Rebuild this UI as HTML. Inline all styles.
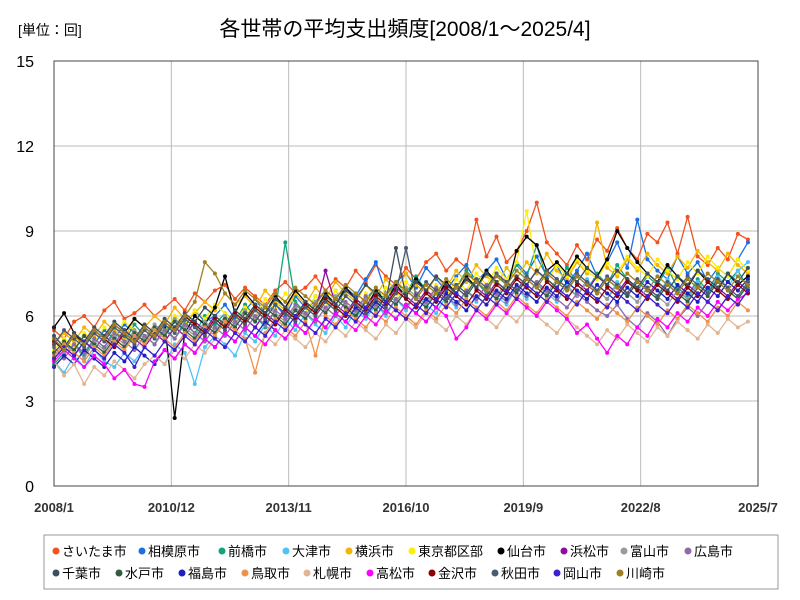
<!DOCTYPE html>
<html><head><meta charset="utf-8">
<style>
body{margin:0;background:#fff;}
svg{display:block;font-family:"Liberation Sans","Noto Sans CJK JP",sans-serif;}
</style></head>
<body>
<svg id="chart" width="800" height="600">
<rect x="0" y="0" width="800" height="600" fill="#fff"/>
<text x="18" y="35" font-size="14" fill="#000">[単位：回]</text>
<text x="405" y="36" font-size="21" text-anchor="middle" fill="#000">各世帯の平均支出頻度[2008/1～2025/4]</text>
<g id="grid"></g>
<g id="series"></g>
<rect x="54" y="61" width="704" height="425" fill="none" stroke="#444" stroke-width="1"/>
<rect x="44" y="535" width="734" height="54" fill="#fff" stroke="#999"/>
<g id="legend"></g>
</svg>
<script>
const names=["さいたま市","相模原市","前橋市","大津市","横浜市","東京都区部","仙台市","浜松市","富山市","広島市","千葉市","水戸市","福島市","鳥取市","札幌市","高松市","金沢市","秋田市","岡山市","川崎市"];
const colors=["#f4511e","#1a6fe8","#13a37c","#4fc3f7","#f4b400","#ffee00","#000000","#8e0ca0","#9a9a9a","#8e6aa8","#3c4f5e","#2e5e3e","#1f1fbf","#f0914a","#e2b594","#ff00ff","#8b0000","#4a5a70","#3f1fcf","#a08020"];
const yTicks=[0,3,6,9,12,15];
const xTickLabels=["2008/1","2010/12","2013/11","2016/10","2019/9","2022/8","2025/7"];
const xTickMonths=[0,35,70,105,140,175,210];
const monthStep=3;
const s0=[5.5,5.2,5.8,6.0,5.6,6.2,6.5,5.9,6.1,6.4,6.0,6.3,6.6,6.2,6.8,6.5,6.9,7.1,6.6,7.0,6.7,6.4,6.9,7.2,6.8,7.0,7.4,6.9,7.3,7.0,7.6,7.2,7.8,7.4,7.1,7.7,7.3,7.9,8.2,7.6,8.0,7.7,9.4,8.1,8.8,7.9,8.3,9.0,10.0,8.6,8.2,7.8,8.5,8.0,8.7,8.3,9.1,8.4,8.0,8.9,8.6,9.3,8.2,9.5,8.1,7.8,8.4,8.0,8.9,8.7];
const s1=[4.6,5.0,4.8,5.3,5.0,5.5,5.2,5.7,5.4,5.1,5.6,5.3,5.9,5.6,6.2,5.8,6.0,6.4,5.9,6.2,6.6,6.1,6.4,6.0,6.7,6.3,6.5,6.9,6.6,7.0,6.7,7.3,7.9,6.8,7.2,7.5,7.0,7.7,7.3,6.9,7.4,7.8,7.2,7.6,8.0,7.3,7.9,7.5,8.1,7.4,7.8,7.1,7.6,8.2,7.4,7.9,8.6,7.7,9.4,8.0,7.6,7.3,8.1,7.5,7.9,7.2,7.7,7.4,8.0,8.6];
const s2=[4.3,4.7,5.0,4.6,5.2,4.9,5.5,5.1,5.7,5.3,5.0,5.6,5.2,5.8,5.4,6.0,5.7,6.1,5.8,6.4,6.0,5.6,6.2,8.6,6.5,6.1,6.7,6.3,6.9,6.4,5.9,6.6,7.0,6.5,7.2,6.8,7.4,6.9,6.6,7.3,7.0,7.6,7.2,6.8,7.5,7.1,7.8,7.4,8.5,7.3,7.0,7.7,7.2,6.9,7.5,7.1,7.8,7.3,6.9,7.4,7.1,7.7,7.0,6.7,7.3,6.9,7.5,7.2,7.6,7.0];
const s3=[4.4,4.0,4.6,4.2,4.8,4.4,4.2,4.7,4.4,4.9,4.6,4.3,5.0,4.7,3.6,4.9,5.3,5.0,4.6,5.4,5.1,5.7,5.3,5.9,5.5,6.1,5.7,5.4,6.0,5.6,6.2,5.9,6.4,6.0,6.6,6.2,6.8,6.4,6.1,6.7,6.3,6.9,6.5,7.1,6.7,6.4,7.0,6.6,7.2,6.8,6.5,7.1,6.7,7.3,6.9,6.6,7.2,6.8,6.5,7.0,6.7,7.3,6.9,6.6,7.2,6.8,7.4,7.0,7.6,7.9];
const s4=[5.0,5.4,5.1,5.6,5.3,5.8,5.5,5.2,5.9,5.6,6.0,5.7,6.3,5.9,6.1,6.5,6.2,6.8,6.4,6.7,6.3,6.9,6.5,6.2,6.8,6.4,7.0,6.6,7.2,6.8,6.5,7.1,6.7,7.3,6.9,7.5,7.1,6.8,7.4,7.0,7.6,7.2,7.8,7.4,7.1,7.7,7.3,7.9,7.5,8.2,7.6,7.3,7.9,7.5,9.3,7.7,7.4,8.0,7.6,8.2,7.8,7.5,8.1,7.7,8.3,7.9,7.6,8.2,7.8,7.5];
const s5=[4.8,5.2,4.9,5.4,5.1,5.6,5.3,5.8,5.5,5.2,5.7,5.4,6.0,5.7,6.2,5.9,6.4,6.1,5.8,6.3,6.0,6.6,6.2,6.8,6.4,6.1,6.7,6.3,6.9,6.5,6.2,6.8,6.4,7.0,6.6,7.2,6.8,6.5,7.1,6.7,7.3,6.9,7.5,7.1,7.7,7.3,7.9,9.7,7.6,7.2,7.8,7.4,8.0,7.6,7.3,7.9,7.5,8.1,7.7,7.4,8.0,7.6,7.3,7.9,7.5,8.1,7.7,7.4,8.0,7.6];
const s6=[5.6,6.1,5.4,5.0,5.5,5.2,5.7,5.4,5.9,5.6,5.3,5.8,2.4,5.4,6.0,5.7,6.3,7.4,6.1,6.8,6.4,6.1,6.7,6.3,6.9,6.5,6.2,6.8,6.4,7.0,6.6,6.3,6.9,6.5,7.1,6.7,7.3,6.9,6.6,7.2,6.8,7.4,7.0,7.6,7.2,6.9,8.3,8.8,8.5,7.6,7.9,7.5,8.1,7.7,7.4,8.0,9.0,8.4,7.9,7.5,7.2,7.8,7.4,7.0,7.6,7.2,6.9,7.5,7.1,7.4];
const s7=[4.5,4.9,4.6,5.1,4.8,5.3,5.0,5.5,5.2,4.9,5.4,5.1,5.6,5.3,5.8,5.5,6.0,5.7,5.4,5.9,5.6,6.1,5.8,6.3,6.0,6.5,6.2,7.6,6.4,6.1,6.6,6.3,6.8,6.5,7.0,6.7,6.4,6.9,6.6,7.1,6.8,7.3,7.0,6.7,7.2,6.9,7.4,7.1,7.6,7.3,7.0,7.5,7.2,6.9,7.4,7.1,6.8,7.3,7.0,6.7,7.2,6.9,6.6,7.1,6.8,6.5,7.0,6.7,7.2,6.9];
const s8=[5.2,4.7,5.0,4.5,5.1,4.8,5.3,5.0,5.5,5.2,5.7,5.4,5.9,5.6,5.3,5.8,5.5,6.0,5.7,6.2,5.9,6.4,6.1,5.8,6.3,6.0,6.5,6.2,6.7,6.4,6.1,6.6,6.3,6.8,6.5,7.0,6.7,6.4,6.9,6.6,7.1,6.8,7.3,7.0,6.7,7.2,6.9,7.4,7.1,6.8,7.3,7.0,6.7,7.2,6.9,6.6,7.1,6.8,6.5,7.0,6.7,6.4,6.9,6.6,7.1,6.8,7.3,7.0,6.7,7.2];
const s9=[4.9,4.5,5.0,4.7,5.2,4.9,5.4,5.1,4.8,5.3,5.0,5.5,5.2,5.7,5.4,5.1,5.6,5.3,5.8,5.5,6.0,5.7,6.2,5.9,6.4,6.1,5.8,6.3,6.0,6.5,6.2,6.7,6.4,6.1,6.6,6.3,6.8,6.5,7.0,6.7,6.4,6.9,6.6,7.1,6.8,6.5,7.0,6.7,7.2,6.9,6.6,6.3,6.8,6.5,6.2,6.0,6.4,5.9,5.6,6.1,5.8,5.3,5.9,6.3,6.0,6.5,6.2,6.7,6.4,6.9];
const s10=[5.3,4.9,5.4,5.1,5.6,5.3,5.8,5.5,5.2,5.7,5.4,5.9,5.6,6.1,5.8,6.3,6.0,5.7,6.2,5.9,6.4,6.1,6.6,6.3,6.0,6.5,6.2,6.7,6.4,6.9,6.6,7.1,6.8,6.5,8.4,6.7,7.2,6.9,7.4,7.1,6.8,7.3,7.0,7.5,7.2,6.9,7.4,7.1,7.6,7.3,7.0,7.5,7.2,7.7,7.4,7.1,7.6,7.3,7.0,7.5,7.2,6.9,7.4,7.1,7.6,7.3,7.0,7.5,7.2,7.7];
const s11=[4.7,5.1,4.8,5.3,5.0,4.7,5.2,4.9,5.4,5.1,5.6,5.3,5.8,5.5,5.2,5.7,5.4,5.9,5.6,6.1,5.8,6.3,6.0,5.7,6.2,5.9,6.4,6.1,6.6,6.3,6.0,6.5,6.2,6.7,6.4,6.9,6.6,6.3,6.8,6.5,7.0,6.7,7.2,6.9,6.6,7.1,6.8,7.3,7.0,6.7,7.2,6.9,7.4,7.1,6.8,7.3,7.0,6.7,7.2,6.9,6.6,7.1,6.8,6.5,7.0,6.7,7.2,6.9,6.6,7.1];
const s12=[4.2,4.6,4.3,4.8,4.5,4.2,4.7,4.4,4.9,4.6,4.3,4.8,4.5,5.0,4.7,5.2,4.9,5.4,5.1,5.6,5.3,5.8,5.5,5.2,5.7,5.4,5.9,5.6,6.1,5.8,6.3,6.0,6.5,6.2,5.9,6.4,6.1,6.6,6.3,6.8,6.5,6.2,6.7,6.4,6.9,6.6,7.1,6.8,6.5,7.0,6.7,7.2,6.9,6.6,7.1,6.8,6.5,7.0,6.7,7.2,6.9,6.6,7.1,6.8,6.5,7.0,6.7,7.2,6.9,7.3];
const s13=[4.6,5.0,4.7,4.4,4.9,4.6,5.1,4.8,5.3,5.0,5.5,5.2,4.9,5.4,5.1,5.6,5.3,5.8,5.5,5.2,4.0,5.4,5.9,5.6,5.3,5.8,4.6,6.0,5.7,6.2,5.9,5.6,6.1,5.8,6.3,6.0,5.7,6.2,5.9,6.4,6.1,6.6,6.3,6.0,6.5,6.2,6.7,6.4,6.1,6.6,6.3,6.0,6.5,6.2,5.9,6.4,6.1,5.8,6.3,6.0,5.7,6.2,5.9,6.4,6.1,5.8,6.3,6.0,6.5,6.2];
const s14=[4.4,3.9,4.3,3.6,4.2,3.9,4.4,4.1,3.8,4.3,4.6,4.3,4.8,4.5,5.0,4.7,5.2,4.9,5.4,5.1,4.8,5.3,5.0,5.5,5.2,4.9,5.4,5.1,5.6,5.3,5.8,5.5,5.2,5.7,5.4,5.9,5.6,6.1,5.8,5.5,6.0,5.7,6.2,5.9,5.6,6.1,5.8,6.3,6.0,5.7,5.4,5.9,5.6,5.3,5.0,5.5,5.2,5.7,5.4,5.1,5.6,5.3,5.8,5.5,5.2,5.7,5.4,5.9,5.6,5.8];
const s15=[4.4,4.8,4.5,4.2,4.6,4.3,3.8,4.1,3.6,3.5,4.4,4.8,4.5,5.0,4.7,5.2,4.9,5.4,5.1,5.6,5.3,5.0,5.5,5.2,5.7,5.4,5.9,5.6,6.1,5.8,5.5,6.0,5.7,6.2,5.9,6.4,6.1,5.8,6.3,6.0,5.2,5.6,6.2,5.9,6.4,6.1,6.6,6.3,6.0,6.5,6.2,5.9,5.4,5.7,5.2,4.7,5.3,5.0,5.6,5.3,5.9,5.6,6.1,5.8,6.3,6.0,6.5,6.2,6.6,6.8];
const s16=[5.1,4.8,5.3,5.0,5.5,5.2,4.9,5.4,5.1,5.6,5.3,5.8,5.5,6.0,5.7,5.4,5.9,5.6,6.1,5.8,6.3,6.0,5.7,6.2,5.9,6.4,6.1,6.6,6.3,6.0,6.5,6.2,6.7,6.4,6.9,6.6,6.3,6.8,6.5,7.0,6.7,6.4,6.9,6.6,7.1,6.8,7.3,7.0,6.7,7.2,6.9,6.6,7.1,6.8,6.5,7.0,6.7,7.2,6.9,6.6,7.1,6.8,6.5,7.0,6.7,7.2,6.9,6.6,7.1,6.8];
const s17=[5.0,5.5,5.2,4.9,5.4,5.1,5.6,5.3,5.0,5.5,5.2,5.7,5.4,5.9,5.6,5.3,5.8,5.5,6.0,5.7,6.2,5.9,6.4,6.1,5.8,6.3,6.0,6.5,6.2,6.7,6.4,6.1,6.6,6.3,6.8,8.4,6.7,7.2,6.9,6.6,7.1,6.8,7.3,7.0,7.5,7.2,6.9,7.4,7.1,7.6,7.3,7.0,7.5,7.2,6.9,7.4,7.1,6.8,7.3,7.0,6.7,7.2,6.9,7.4,7.1,6.8,7.3,7.0,6.7,7.2];
const s18=[4.5,4.9,4.6,5.1,4.8,4.5,5.0,4.7,4.2,4.9,4.6,5.1,4.8,5.3,5.0,5.5,5.2,4.9,5.4,5.1,5.6,5.3,5.8,5.5,6.0,5.7,5.4,5.9,5.6,6.1,5.8,6.3,6.0,6.5,6.2,5.9,6.4,6.1,6.6,6.3,6.8,6.5,6.2,6.7,6.4,6.9,6.6,7.1,6.8,6.5,7.0,6.7,6.4,6.9,6.6,6.3,6.8,6.5,6.2,6.7,6.4,6.1,6.6,6.3,6.8,6.5,6.2,6.7,6.4,6.9];
const s19=[5.2,4.8,5.3,5.0,5.5,5.2,5.7,5.4,5.1,5.6,5.3,5.8,5.5,6.0,6.5,7.9,7.5,6.8,6.4,6.9,6.6,6.3,6.8,6.5,7.0,6.7,6.4,6.9,6.6,7.1,6.8,6.5,7.0,6.7,7.2,6.9,6.6,7.1,6.8,7.3,7.0,7.5,7.2,6.9,7.4,7.1,7.6,7.3,7.0,7.5,7.2,6.9,7.4,7.1,6.8,7.3,7.0,7.5,7.2,6.9,7.4,7.1,6.8,7.3,7.0,7.5,7.2,6.9,7.4,7.1];
const seriesValues=[s0,s1,s2,s3,s4,s5,s6,s7,s8,s9,s10,s11,s12,s13,s14,s15,s16,s17,s18,s19];

const NS="http://www.w3.org/2000/svg";
const X0=54,X1=758,Y0=486,Y1=61,XMAX=210,YMAX=15;
function xs(m){return X0+(X1-X0)*m/XMAX;}
function ys(v){return Y0-(Y0-Y1)*v/YMAX;}
function mk(t,a){const e=document.createElementNS(NS,t);for(const k in a)e.setAttribute(k,a[k]);return e;}
const grid=document.getElementById('grid');
yTicks.forEach(v=>{
  const l=mk('line',{x1:X0,x2:X1,y1:ys(v),y2:ys(v),stroke:'#bbb','stroke-width':1});
  
  
  grid.appendChild(l);
  const t=mk('text',{x:X0-20,y:ys(v)+6,'font-size':16,'text-anchor':'end',fill:'#000'});
  t.textContent=v;
  
  
  grid.appendChild(t);
});
xTickMonths.forEach((m,i)=>{
  const l=mk('line',{x1:xs(m),x2:xs(m),y1:Y1,y2:Y0,stroke:'#bbb','stroke-width':1});
  
  
  grid.appendChild(l);
  const t=mk('text',{x:xs(m),y:512,'font-size':13,'font-weight':'bold','text-anchor':'middle',fill:'#333'});
  t.textContent=xTickLabels[i];
  
  
  grid.appendChild(t);
});
const sg=document.getElementById('series');
seriesValues.forEach((vals,si)=>{
  const g=mk('g',{});
  
  
  const pts=vals.map((v,i)=>xs(i*monthStep).toFixed(1)+','+ys(v).toFixed(1)).join(' ');
  const pl=mk('polyline',{points:pts,fill:'none',stroke:colors[si],'stroke-width':1.3});
  
  
  g.appendChild(pl);
  vals.forEach((v,i)=>{
    const c=mk('circle',{cx:xs(i*monthStep),cy:ys(v),r:2,fill:colors[si]});
    
    
    g.appendChild(c);
  });
  sg.appendChild(g);
});
const legX=[52,138,218,282,345,408,497,560,620,684,52,115,178,241,303,366,428,491,553,616];
const lg=document.getElementById('legend');
names.forEach((n,i)=>{
  const row=i<10?0:1;
  const y=551+row*22;
  const g=mk('g',{});
  
  
  g.appendChild(mk('circle',{cx:legX[i]+4,cy:y,r:3.5,fill:colors[i]}));
  const t=mk('text',{x:legX[i]+10,y:y+5,'font-size':13,fill:'#000'});
  t.textContent=n;
  g.appendChild(t);
  lg.appendChild(g);
});
</script>
</body></html>
